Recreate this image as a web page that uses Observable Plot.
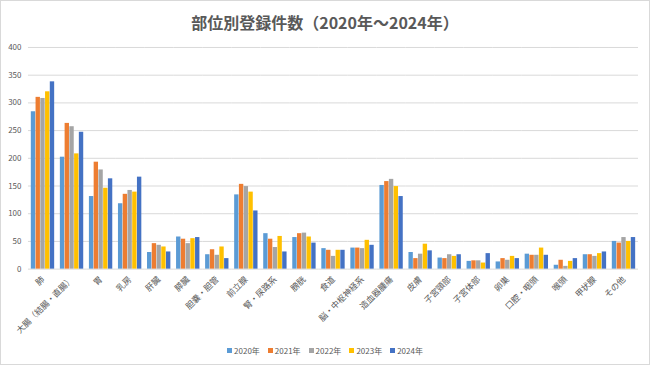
<!DOCTYPE html>
<html>
<head>
<meta charset="utf-8">
<script src="https://cdn.jsdelivr.net/npm/d3@7"></script>
<script src="https://cdn.jsdelivr.net/npm/@observablehq/plot@0.6"></script>
<style>
  html, body { margin: 0; padding: 0; background: #fff; }
  #frame { position: relative; width: 650px; height: 365px; box-sizing: border-box; border: 1px solid #d9d9d9; background: #fff; overflow: hidden; font-family: "Noto Sans CJK JP", "Noto Sans", sans-serif; color: #595959; }
  #title { position: absolute; left: 0; right: 0; top: 9px; text-align: center; font-size: 16px; font-weight: bold; color: #595959; }
  #chart { position: absolute; left: -1px; top: 35px; }
  #legend { position: absolute; left: 0; right: 0; top: 344px; text-align: center; font-size: 8px; color: #595959; }
  #legend span.item { display: inline-block; margin: 0 4px; }
  #legend span.sw { display: inline-block; width: 5px; height: 5px; margin-right: 2px; vertical-align: 1px; }
</style>
</head>
<body>
<div id="frame">
  <div id="title">部位別登録件数（2020年～2024年）</div>
  <div id="chart"></div>
  <div id="legend"></div>
</div>
<script>
const categories = ["肺", "大腸（結腸・直腸）", "胃", "乳房", "肝臓", "膵臓", "胆嚢・胆管", "前立腺", "腎・尿路系", "膀胱", "食道", "脳・中枢神経系", "造血器腫瘍", "皮膚", "子宮頸部", "子宮体部", "卵巣", "口腔・咽頭", "喉頭", "甲状腺", "その他"];
const years = ["2020年", "2021年", "2022年", "2023年", "2024年"];
const v2020 = [284, 202, 131, 118, 30, 58, 26, 134, 64, 57, 37, 38, 151, 30, 20, 14, 13, 27, 7, 26, 50];
const v2021 = [310, 263, 193, 135, 46, 54, 35, 153, 54, 64, 34, 38, 158, 19, 19, 15, 19, 25, 16, 26, 47];
const v2022 = [308, 257, 179, 142, 43, 46, 25, 149, 39, 65, 23, 37, 162, 27, 26, 15, 16, 25, 5, 23, 57];
const v2023 = [320, 208, 146, 139, 40, 55, 40, 139, 59, 58, 34, 52, 149, 45, 23, 11, 23, 38, 14, 28, 50];
const v2024 = [338, 247, 163, 166, 31, 57, 19, 105, 31, 47, 34, 43, 131, 33, 26, 28, 19, 25, 19, 31, 57];
const yTicks = [0, 50, 100, 150, 200, 250, 300, 350, 400];
const colors = ["#5B9BD5", "#ED7D31", "#A5A5A5", "#FFC000", "#4472C4"];

const series = [v2020, v2021, v2022, v2023, v2024];
const data = categories.flatMap((c, i) => years.map((y, j) => ({cat: c, year: y, value: series[j][i]})));

const chart = Plot.plot({
  width: 650,
  height: 300,
  marginTop: 11,
  marginLeft: 28,
  marginRight: 11,
  marginBottom: 67,
  style: {fontFamily: "'Noto Sans CJK JP', 'Noto Sans', sans-serif", fontSize: "8px", color: "#595959", background: "transparent"},
  fx: {domain: categories, padding: 0, round: false, label: null, tickRotate: -45, tickSize: 0, tickPadding: 9, axis: "bottom"},
  x: {domain: years, paddingInner: 0.08, paddingOuter: 0.6, round: false, axis: null},
  y: {domain: [0, 400], ticks: yTicks, label: null, tickSize: 0, tickPadding: 7},
  color: {domain: years, range: colors},
  marks: [
    Plot.ruleY(yTicks, {stroke: "#d9d9d9", strokeWidth: 1}),
    Plot.barY(data, {fx: "cat", x: "year", y: "value", fill: "year"})
  ]
});
chart.querySelectorAll("[aria-label='fx-axis tick label'] text, g[aria-label='fx-axis tick label'] text").forEach(t => t.style.fontSize = "8.5px");
document.getElementById("chart").appendChild(chart);

const legend = document.getElementById("legend");
years.forEach((y, j) => {
  const item = document.createElement("span");
  item.className = "item";
  const sw = document.createElement("span");
  sw.className = "sw";
  sw.style.background = colors[j];
  item.appendChild(sw);
  item.appendChild(document.createTextNode(y));
  legend.appendChild(item);
});
</script>
</body>
</html>
